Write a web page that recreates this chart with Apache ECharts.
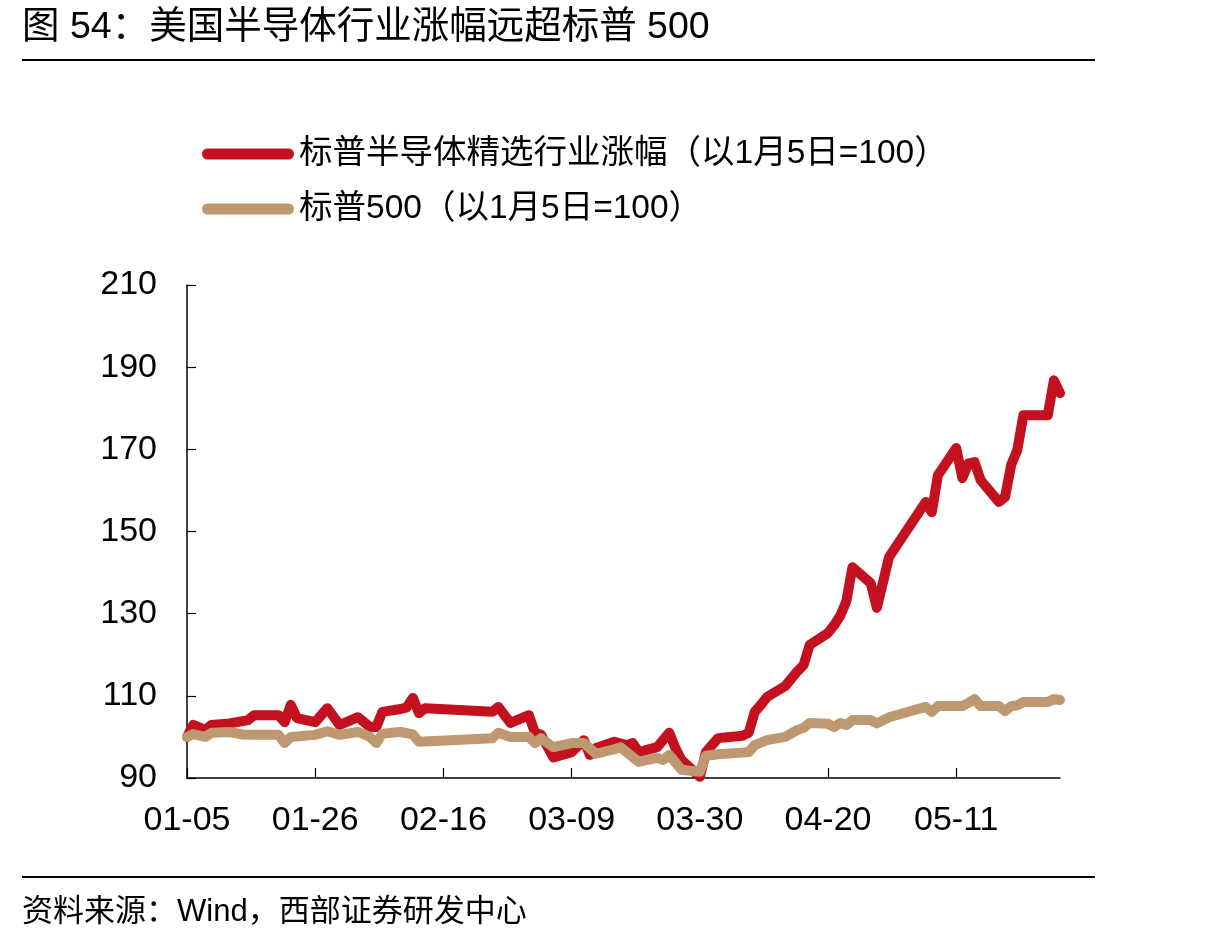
<!DOCTYPE html>
<html>
<head>
<meta charset="utf-8">
<script src="https://cdn.jsdelivr.net/npm/echarts@6/dist/echarts.min.js"></script>
<style>
html,body{margin:0;padding:0;background:#fff;}
#chart{width:1215px;height:943px;}
</style>
</head>
<body>
<div id="chart"></div>
<script>
// ---- data ----
const titleText = '图 54：美国半导体行业涨幅远超标普 500';
const sourceText = '资料来源：Wind，西部证券研发中心';
const seriesNames = ['标普半导体精选行业涨幅（以1月5日=100）', '标普500（以1月5日=100）'];
const xTickLabels = ['01-05','01-26','02-16','03-09','03-30','04-20','05-11'];
const xStart = '01-05';
const xEnd = '05-28';
const yTicks = [90, 110, 130, 150, 170, 190, 210];

const semiDates = ['01-05','01-06','01-08','01-09','01-12','01-15','01-16','01-20','01-21','01-22','01-23','01-26','01-28','01-30',
  '02-02','02-04','02-05','02-06','02-09','02-10','02-11','02-12','02-13','02-24','02-25','02-27',
  '03-02','03-03','03-04','03-06','03-09','03-11','03-12','03-13','03-16','03-18','03-19','03-20','03-23','03-25','03-26','03-27','03-30','03-31',
  '04-02','04-06','04-07','04-08','04-09','04-10','04-13','04-15','04-16','04-17','04-20','04-21','04-22','04-23','04-24','04-27','04-28','04-30',
  '05-06','05-07','05-08','05-11','05-12','05-13','05-14','05-15','05-18','05-19','05-20','05-21','05-22','05-26','05-27','05-28'];
const semiValues = [100,102.9,101.7,102.9,103.3,104.1,105.3,105.3,103.6,107.8,104.6,103.6,107.0,102.9,
  104.8,102.4,102.4,106.1,106.8,107.2,109.5,105.8,107.0,106.1,107.3,103.4,
  105.3,101.0,100.5,95.0,96.3,99.2,95.6,97.3,98.8,98.0,98.5,96.3,97.5,101.0,97.3,94.4,90.3,96.3,
  99.7,100.3,101.0,106.1,107.8,109.7,112.4,116.0,117.5,122.4,125.3,127.2,129.5,133.0,141.3,137.4,131.4,143.8,
  157.2,154.7,163.7,170.3,163.0,166.6,166.9,162.5,157.2,158.4,166.2,169.8,178.3,178.3,186.8,183.7];

const spxDates = ['01-05','01-06','01-08','01-09','01-12','01-14','01-16','01-20','01-21','01-22','01-26','01-28','01-30',
  '02-02','02-04','02-05','02-06','02-09','02-11','02-12','02-24','02-25','02-27',
  '03-02','03-03','03-04','03-06','03-09','03-11','03-13','03-16','03-17','03-18','03-20','03-23','03-24','03-25','03-27','03-30','03-31',
  '04-02','04-07','04-08','04-09','04-10','04-13','04-15','04-16','04-17','04-20','04-21','04-22','04-23','04-24','04-27','04-28','04-30',
  '05-06','05-07','05-08','05-12','05-13','05-14','05-15','05-18','05-19','05-20','05-21','05-22','05-26','05-27','05-28'];
const spxValues = [100,100.7,100.0,101.0,101.2,100.6,100.5,100.5,98.5,100.0,100.5,101.4,100.5,
  101.2,100.0,98.5,100.8,101.2,100.6,98.8,99.7,101.0,100.0,
  100.0,98.5,99.7,97.5,98.5,98.5,95.9,97.0,97.5,96.3,93.9,94.9,94.4,95.6,92.0,91.5,95.4,
  95.8,96.3,98.0,98.6,99.2,100.0,101.7,102.2,103.4,103.2,102.4,103.4,102.9,104.1,104.1,103.3,104.8,
  107.3,106.1,107.5,107.5,108.3,109.2,107.5,107.5,106.3,107.5,107.7,108.5,108.5,109.2,109.0];

// ---- helpers ----
const cumDays = [0,31,59,90,120,151,181,212,243,273,304,334];
function doy(s){ const [m,d] = s.split('-').map(Number); return cumDays[m-1] + d; }
const base = doy(xStart);
function off(s){ return doy(s) - base; }
function lab(v){
  const target = v + base;
  let m = 0; while (m < 11 && cumDays[m+1] < target) m++;
  const d = target - cumDays[m];
  return String(m+1).padStart(2,'0') + '-' + String(d).padStart(2,'0');
}
const pair = (ds, vs) => ds.map((d,i) => [off(d), vs[i]]);
const xTickVals = xTickLabels.map(off);

const FONT = '"Liberation Sans", Arial, "Noto Sans CJK SC", sans-serif';
const RED = '#C4111F';
const TAN = '#BD9870';

const chart = echarts.init(document.getElementById('chart'), null, {renderer:'canvas'});
chart.setOption({
  animation: false,
  backgroundColor: '#fff',
  textStyle: { fontFamily: FONT, color: '#000' },
  grid: { left: 187, right: 155, top: 285, bottom: 165, containLabel: false },
  legend: {
    orient: 'vertical', left: 197, top: 131, itemGap: 19,
    itemWidth: 92, itemHeight: 11,
    icon: 'path://M5.5,0 L86.5,0 A5.5,5.5 0 0 1 86.5,11 L5.5,11 A5.5,5.5 0 0 1 5.5,0 Z',
    textStyle: { fontFamily: FONT, fontSize: 33.5, color: '#000', lineHeight: 36 },
    data: seriesNames
  },
  xAxis: {
    type: 'value', min: off(xStart), max: off(xEnd),
    axisLine: { show: true, lineStyle: { color: '#000', width: 1.5 } },
    axisTick: { show: true, inside: true, length: 10, lineStyle: { color: '#000', width: 1.2 }, customValues: xTickVals },
    axisLabel: { customValues: xTickVals, formatter: v => lab(v), fontFamily: FONT, fontSize: 34, color: '#000', margin: 26 },
    splitLine: { show: false }
  },
  yAxis: {
    type: 'value', min: yTicks[0], max: yTicks[yTicks.length-1], interval: 20,
    axisLine: { show: true, lineStyle: { color: '#000', width: 1.5 } },
    axisTick: { show: true, inside: true, length: 9, lineStyle: { color: '#000', width: 1.2 } },
    axisLabel: { fontFamily: FONT, fontSize: 34, color: '#000', margin: 30 },
    splitLine: { show: false }
  },
  series: [
    { name: seriesNames[0], type: 'line', data: pair(semiDates, semiValues), showSymbol: false, symbol: 'none',
      itemStyle: { color: RED }, lineStyle: { color: RED, width: 10, cap: 'round', join: 'round' }, z: 2 },
    { name: seriesNames[1], type: 'line', data: pair(spxDates, spxValues), showSymbol: false, symbol: 'none',
      itemStyle: { color: TAN }, lineStyle: { color: TAN, width: 10, cap: 'round', join: 'round' }, z: 3 }
  ],
  graphic: [
    { type: 'text', left: 22, top: 9, style: { text: titleText, font: '37.5px ' + FONT, fill: '#000' } },
    { type: 'line', shape: { x1: 22, y1: 60, x2: 1095, y2: 60 }, style: { stroke: '#000', lineWidth: 2 } },
    { type: 'line', shape: { x1: 22, y1: 877, x2: 1095, y2: 877 }, style: { stroke: '#000', lineWidth: 2 } },
    { type: 'text', left: 22, top: 897, style: { text: sourceText, font: '31px ' + FONT, fill: '#000' } }
  ]
});
</script>
</body>
</html>
